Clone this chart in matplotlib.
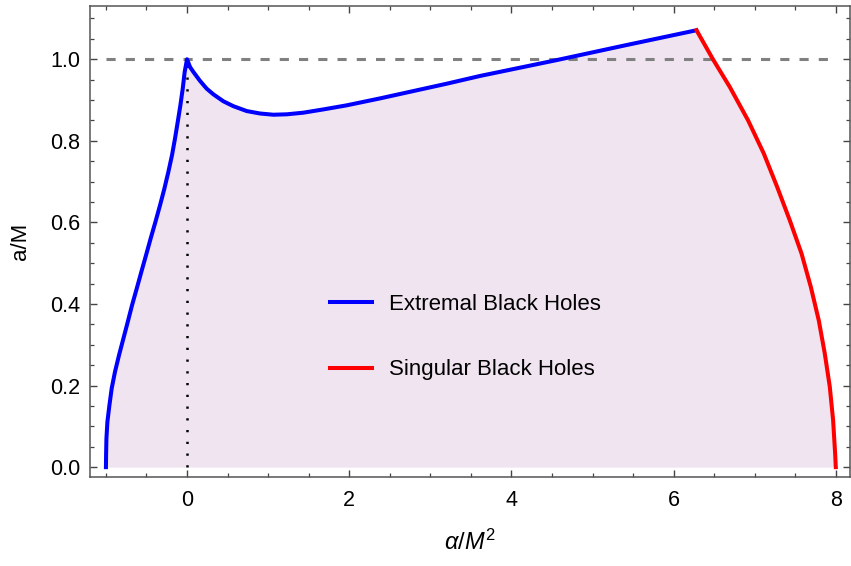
import matplotlib
matplotlib.use("Agg")
import matplotlib.pyplot as plt
from matplotlib.ticker import MultipleLocator, FormatStrFormatter
import numpy as np

plt.rcParams['font.family'] = ['Liberation Sans', 'DejaVu Sans']
plt.rcParams['mathtext.fontset'] = 'custom'
plt.rcParams['mathtext.rm'] = 'Liberation Sans'
plt.rcParams['mathtext.it'] = 'Liberation Sans:italic'

# extremal branch (blue)
alpha_extremal = [-1.0, -0.998, -0.994, -0.982, -0.957, -0.929, -0.888, -0.838, -0.785,
                  -0.731, -0.678, -0.62, -0.563, -0.505, -0.448, -0.39, -0.333, -0.279,
                  -0.23, -0.185, -0.148, -0.115, -0.082, -0.053, -0.029, 0.0,
                  0.037, 0.078, 0.16, 0.242, 0.325, 0.448, 0.571, 0.736, 0.9, 1.064,
                  1.229, 1.434, 1.68, 1.968, 2.379, 2.79, 3.201, 3.612, 4.56, 5.4, 6.28]
a_extremal = [0.0, 0.03, 0.07, 0.111, 0.152, 0.193, 0.234, 0.275, 0.315,
              0.356, 0.397, 0.438, 0.479, 0.52, 0.561, 0.601, 0.642, 0.683,
              0.724, 0.765, 0.806, 0.846, 0.887, 0.928, 0.969, 1.0,
              0.981, 0.969, 0.947, 0.928, 0.914, 0.897, 0.885, 0.873, 0.867, 0.864,
              0.865, 0.869, 0.877, 0.887, 0.904, 0.922, 0.94, 0.959, 0.998, 1.034, 1.071]

# singular branch (red)
alpha_singular = [6.283, 6.488, 6.693, 6.919, 7.112, 7.277, 7.433, 7.577, 7.692,
                  7.79, 7.864, 7.926, 7.967, 7.992, 8.0]
a_singular = [1.071, 0.999, 0.932, 0.85, 0.769, 0.687, 0.605, 0.524, 0.442,
              0.36, 0.279, 0.197, 0.115, 0.033, 0.0]

fig = plt.figure(figsize=(8.51, 5.66), dpi=100)
ax = fig.add_axes([0.1058, 0.157, 0.893, 0.832])

x_all = np.array(alpha_extremal + alpha_singular[1:])
y_all = np.array(a_extremal + a_singular[1:])
ax.fill_between(x_all, 0, y_all, color='#f0e4f1', lw=0, zorder=1)

ax.plot([-1, 8], [1, 1], color='#808080', lw=2.2, dashes=(3, 3.3), zorder=2)
ax.plot([0, 0], [0, 1], color='black', lw=1.8, ls=(0, (0.9, 3.8)), zorder=2)

ax.plot(alpha_extremal, a_extremal, color='#0000ff', lw=2.9, label='Extremal Black Holes',
        solid_joinstyle='round', zorder=3)
ax.plot(alpha_singular, a_singular, color='#ff0000', lw=2.9, label='Singular Black Holes',
        solid_joinstyle='round', zorder=3)

ax.set_xlim(-1.196, 8.175)
ax.set_ylim(-0.0245, 1.13)
ax.xaxis.set_major_locator(MultipleLocator(2))
ax.xaxis.set_minor_locator(MultipleLocator(0.5))
ax.yaxis.set_major_locator(MultipleLocator(0.2))
ax.yaxis.set_minor_locator(MultipleLocator(0.05))
ax.yaxis.set_major_formatter(FormatStrFormatter('%.1f'))

ax.tick_params(which='both', direction='in', top=True, right=True, color='#444444', labelsize=15.5)
ax.tick_params(which='major', length=5, width=1)
ax.tick_params(which='minor', length=2.8, width=0.9)
ax.tick_params(axis='x', pad=9)
ax.tick_params(axis='y', pad=7)
for s in ax.spines.values():
    s.set_color('#555555')
    s.set_linewidth(1.1)

ax.set_xlabel(r'$\alpha/M^2$', fontsize=17, labelpad=14)
ax.set_ylabel('a/M', fontsize=16, labelpad=14)

leg = ax.legend(loc='center', bbox_to_anchor=(0.494, 0.297), frameon=False, fontsize=16,
                handlelength=1.9, handletextpad=0.75, labelspacing=2.0)

fig.savefig('out.png', dpi=100)
